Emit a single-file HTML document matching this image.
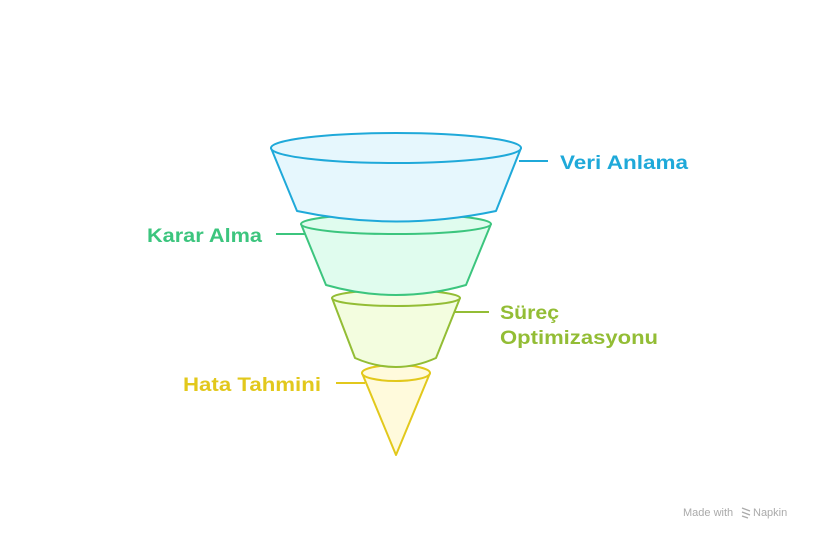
<!DOCTYPE html>
<html><head><meta charset="utf-8"><style>
html,body{margin:0;padding:0;background:#fff;width:816px;height:540px;overflow:hidden}
svg{display:block}
text{font-family:"Liberation Sans",sans-serif;font-weight:bold}
</style></head><body>
<svg width="816" height="540" viewBox="0 0 816 540">
<path d="M362,373 L396,455 L430,373 Z" fill="#fffadc" stroke="#e2c81c" stroke-width="2" stroke-linejoin="round"/>
<ellipse cx="396" cy="373" rx="34" ry="8" fill="#fffadc" stroke="#e2c81c" stroke-width="2"/>
<path d="M332,298 L355,358 Q396,376 436,358 L460,298 Z" fill="#f3fddf" stroke="#93bd35" stroke-width="2" stroke-linejoin="round"/>
<ellipse cx="396" cy="298" rx="64" ry="8" fill="#f3fddf" stroke="#93bd35" stroke-width="2"/>
<path d="M301,224 L326,285 Q396,305 466,285 L491,224 Z" fill="#e0fcee" stroke="#3cc57e" stroke-width="2" stroke-linejoin="round"/>
<ellipse cx="396" cy="224" rx="95" ry="10" fill="#e0fcee" stroke="#3cc57e" stroke-width="2"/>
<path d="M271,148 L297,211 Q396,232 496,211 L521,148 Z" fill="#e6f7fd" stroke="#1fa9d9" stroke-width="2" stroke-linejoin="round"/>
<ellipse cx="396" cy="148" rx="125" ry="15" fill="#e6f7fd" stroke="#1fa9d9" stroke-width="2"/>
<line x1="519" y1="161" x2="548" y2="161" stroke="#1fa9d9" stroke-width="2"/>
<line x1="276" y1="234" x2="305" y2="234" stroke="#3cc57e" stroke-width="2"/>
<line x1="455" y1="312" x2="489" y2="312" stroke="#93bd35" stroke-width="2"/>
<line x1="336" y1="383" x2="365" y2="383" stroke="#e2c81c" stroke-width="2"/>
<text x="560" y="169" font-size="19" fill="#1fa9d9" textLength="128" lengthAdjust="spacingAndGlyphs">Veri Anlama</text>
<text x="147" y="242" font-size="19" fill="#3cc57e" textLength="115" lengthAdjust="spacingAndGlyphs">Karar Alma</text>
<text x="500" y="319" font-size="19" fill="#93bd35" textLength="59" lengthAdjust="spacingAndGlyphs">Süreç</text>
<text x="500" y="344" font-size="19" fill="#93bd35" textLength="158" lengthAdjust="spacingAndGlyphs">Optimizasyonu</text>
<text x="183" y="391" font-size="19" fill="#e2c81c" textLength="138" lengthAdjust="spacingAndGlyphs">Hata Tahmini</text>
<text x="683" y="516" font-size="11" fill="#aaa" style="font-weight:normal">Made with</text>
<text x="753" y="516" font-size="11" fill="#aaa" style="font-weight:normal">Napkin</text>
<path d="M742,508 L750,511 M742,512 L750,515 M742,516 L748,518" stroke="#aaa" stroke-width="1.3"/>
</svg>
</body></html>
